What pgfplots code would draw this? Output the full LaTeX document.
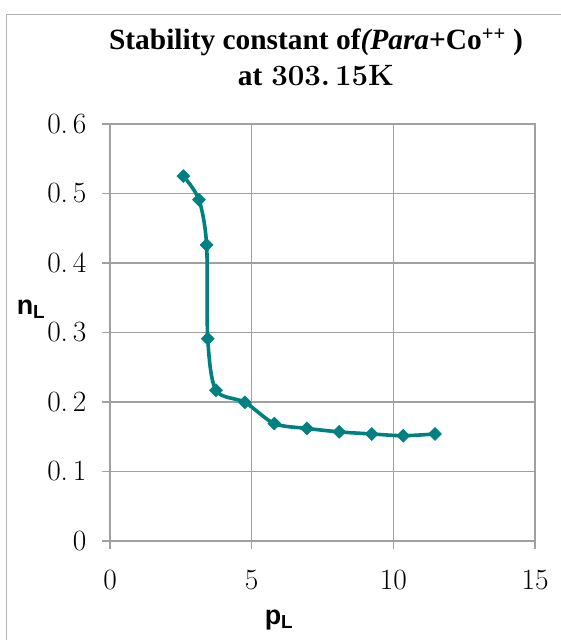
\documentclass[border=0pt]{standalone}
\usepackage{fontspec}
\usepackage{pgfplots}
\pgfplotsset{compat=1.18}
\newfontfamily\tnr{Liberation Serif}
\newfontfamily\arial{Liberation Sans}
\definecolor{teal1}{HTML}{008080}
\definecolor{gridgray}{HTML}{A0A0A0}
\begin{document}
\begin{tikzpicture}[x=1bp,y=1bp]
\useasboundingbox (0,0) rectangle (561,640);
\draw[gridgray!80, line width=1.2bp] (6.5,0) -- (6.5,625.5) -- (561,625.5);
\begin{axis}[
  at={(110bp,99bp)}, anchor=south west,
  scale only axis, width=425bp, height=417bp,
  xmin=0, xmax=15, ymin=0, ymax=0.6,
  xtick={0,5,10,15}, ytick={0,0.1,0.2,0.3,0.4,0.5,0.6},
  xticklabels={0,5,10,15},
  yticklabels={0,{0.\,1},{0.\,2},{0.\,3},{0.\,4},{0.\,5},{0.\,6}},
  grid=major,
  grid style={gridgray, line width=1.1bp},
  axis line style={gridgray, line width=1.1bp},
  tick style={gridgray, line width=1.1bp},
  tick align=outside, major tick length=8bp,
  xtick pos=bottom, ytick pos=left,
  ticklabel style={font=\fontsize{29.5}{32}\selectfont},
  xticklabel style={yshift=-18bp},
  yticklabel style={xshift=-12bp},
]
\addplot[teal1, line width=3.6bp, smooth, tension=0.5, mark=square*, mark size=4.6bp, mark options={fill=teal1, draw=teal1, line width=0.5bp, rotate=45}]
coordinates {
(2.59,0.525) (3.14,0.491) (3.41,0.426) (3.45,0.291) (3.74,0.217)
(4.76,0.1996) (5.80,0.169) (6.95,0.162) (8.09,0.157) (9.24,0.154)
(10.35,0.1515) (11.47,0.154)
};
\end{axis}
\node[anchor=base] at (316,590) {\fontsize{29.5}{34}\selectfont\tnr\bfseries Stability constant of\textit{(Para}+Co\textsuperscript{++} )};
\node[anchor=base] at (316,554) {\fontsize{29.5}{34}\selectfont{\tnr\bfseries at} \bfseries 303.\,15K};
\node at (31,331) {\fontsize{27}{30}\selectfont\arial\bfseries n\textsubscript{L}};
\node at (279,20) {\fontsize{27}{30}\selectfont\arial\bfseries p\textsubscript{L}};
\end{tikzpicture}
\end{document}
